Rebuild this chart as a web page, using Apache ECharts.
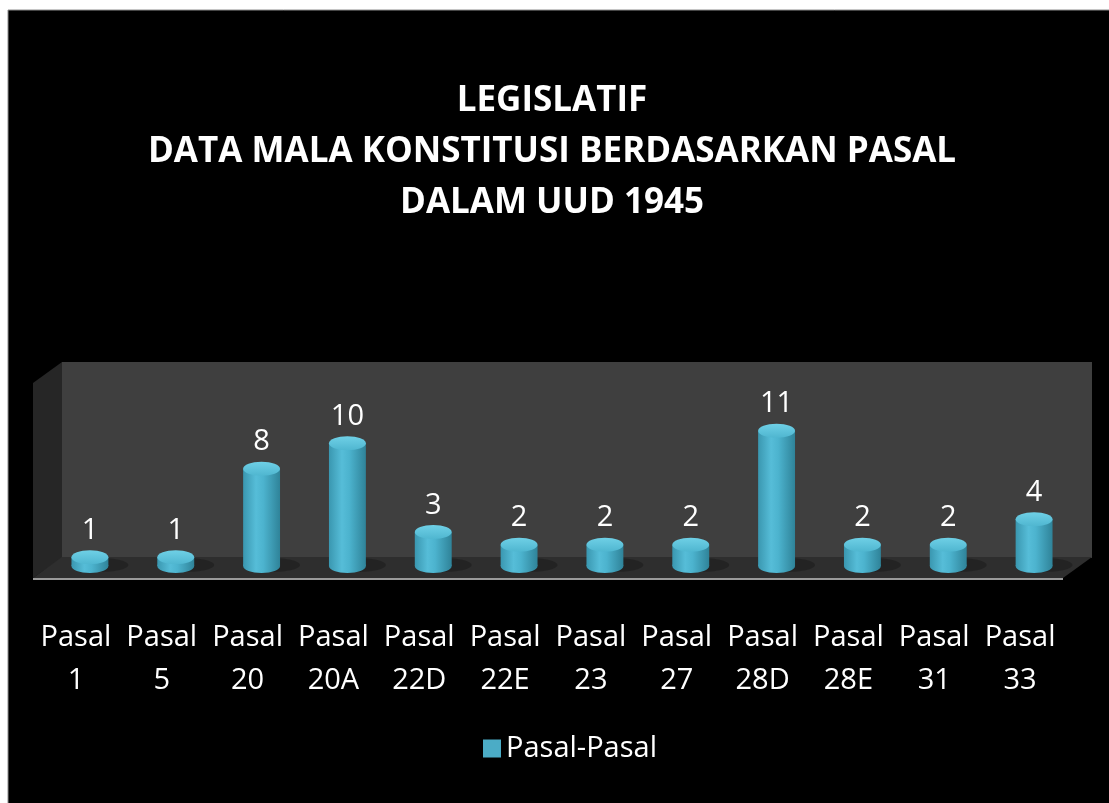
<!DOCTYPE html>
<html lang="id">
<head>
    <meta charset="UTF-8">
    <title>Legislatif - Data Mala Konstitusi</title>
    <script src="https://cdn.jsdelivr.net/npm/echarts@6/dist/echarts.min.js"></script>
    <style>
        html, body { margin: 0; padding: 0; background: #fff; }
        #chartmain { width: 1109px; height: 803px; }
    </style>
</head>
<body>
<div id="chartmain"></div>
<script>
    // data pasal
    var categories = ['Pasal 1', 'Pasal 5', 'Pasal 20', 'Pasal 20A', 'Pasal 22D', 'Pasal 22E',
        'Pasal 23', 'Pasal 27', 'Pasal 28D', 'Pasal 28E', 'Pasal 31', 'Pasal 33'];
    var values = [1, 1, 8, 10, 3, 2, 2, 2, 11, 2, 2, 4];
    var seriesName = 'Pasal-Pasal';
    var titleLines = ['LEGISLATIF', 'DATA MALA KONSTITUSI BERDASARKAN PASAL', 'DALAM UUD 1945'];

    var font = '"Open Sans", "DejaVu Sans", sans-serif';

    function sideGradient() {
        return new echarts.graphic.LinearGradient(0, 0, 1, 0, [
            {offset: 0, color: '#3a97b0'},
            {offset: 0.35, color: '#56bdd8'},
            {offset: 0.55, color: '#4cb3ce'},
            {offset: 1, color: '#2f8399'}
        ]);
    }

    // tabung 3D
    function renderCylinder(params, api) {
        var idx = api.value(0);
        var top = api.coord([idx, api.value(1)]);
        var base = api.coord([idx, 0]);
        var w = api.size([1, 0])[0] * 0.43;
        var r = w / 2;
        var ry = r * 0.38;
        var cx = top[0];
        var by = base[1] - 4;
        return {
            type: 'group',
            children: [
                {   // bayangan di lantai
                    type: 'ellipse',
                    shape: {cx: cx + 10, cy: by - 1, rx: r + 10, ry: ry},
                    style: {fill: 'rgba(0,0,0,0.22)'},
                    silent: true
                },
                {
                    type: 'rect',
                    shape: {x: cx - r, y: top[1], width: w, height: by - top[1]},
                    style: {fill: sideGradient()}
                },
                {
                    type: 'ellipse',
                    shape: {cx: cx, cy: by, rx: r, ry: ry},
                    style: {fill: sideGradient()}
                },
                {
                    type: 'ellipse',
                    shape: {cx: cx, cy: top[1], rx: r, ry: ry},
                    style: {
                        fill: new echarts.graphic.LinearGradient(0, 0, 0, 1, [
                            {offset: 0, color: '#6fd0e6'},
                            {offset: 1, color: '#4fb6d0'}
                        ])
                    }
                },
                {
                    type: 'text',
                    style: {
                        text: String(api.value(1)),
                        x: cx,
                        y: top[1] - ry - 5,
                        align: 'center',
                        verticalAlign: 'bottom',
                        fill: '#ffffff',
                        font: '29px ' + font
                    }
                }
            ]
        };
    }

    var seriesData = values.map(function (v, i) { return [i, v]; });

    var option = {
        backgroundColor: '#ffffff',
        animation: false,
        title: {
            text: titleLines.join('\n'),
            left: 547,
            top: 71,
            textAlign: 'center',
            textStyle: {
                color: '#ffffff',
                fontFamily: font,
                fontWeight: 'bold',
                fontSize: 35,
                lineHeight: 51
            }
        },
        graphic: [
            {type: 'rect', z: -10, shape: {x: 8, y: 10, width: 1110, height: 800},
                style: {fill: '#000', stroke: '#8c8c8c', lineWidth: 1}},
            // dinding belakang
            {type: 'rect', z: -9, shape: {x: 62, y: 362, width: 1030, height: 196},
                style: {fill: '#3f3f3f'}},
            // dinding samping
            {type: 'polygon', z: -9, shape: {points: [[33, 383], [62, 362], [62, 558], [33, 578]]},
                style: {fill: '#262626'}},
            // lantai
            {type: 'polygon', z: -9, shape: {points: [[33, 578], [1063, 578], [1092, 557], [62, 557]]},
                style: {fill: '#2e2e2e'}},
            {type: 'line', z: -8, shape: {x1: 33, y1: 579, x2: 1063, y2: 579},
                style: {stroke: '#9a9a9a', lineWidth: 2}}
        ],
        legend: {
            data: [seriesName],
            left: 478,
            top: 729,
            icon: 'rect',
            itemWidth: 18,
            itemHeight: 18,
            itemGap: 10,
            textStyle: {color: '#ffffff', fontFamily: font, fontSize: 29}
        },
        grid: {left: 47, right: 32, top: 418, bottom: 233},
        xAxis: {
            type: 'category',
            data: categories,
            axisLine: {show: false},
            axisTick: {show: false},
            axisLabel: {
                color: '#ffffff',
                fontFamily: font,
                fontSize: 29,
                lineHeight: 43,
                margin: 46,
                interval: 0,
                padding: [0, 28, 0, 0],
                formatter: function (v) { return v.replace(' ', '\n'); }
            }
        },
        yAxis: {
            type: 'value',
            min: 0,
            max: 12,
            show: false
        },
        series: [{
            name: seriesName,
            type: 'custom',
            renderItem: renderCylinder,
            itemStyle: {color: '#4bacc6'},
            encode: {x: 0, y: 1},
            data: seriesData
        }]
    };

    var myChart = echarts.init(document.getElementById('chartmain'));
    myChart.setOption(option);
</script>
</body>
</html>
